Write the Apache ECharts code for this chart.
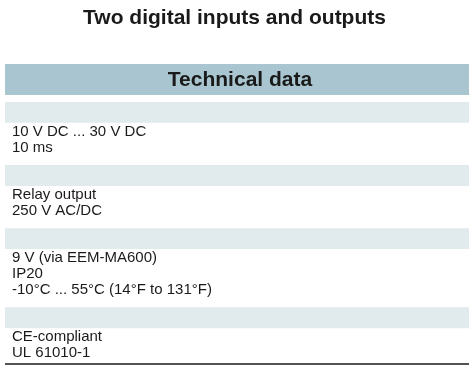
<!DOCTYPE html>
<html><head><meta charset="utf-8">
<script src="https://cdn.jsdelivr.net/npm/echarts@6/dist/echarts.min.js"></script>
<style>html,body{margin:0;padding:0;background:#fff}#c{width:469px;height:380px}</style>
</head><body><div id="c"></div>
<script>
var chartTitle = 'Two digital inputs and outputs';
var headerText = 'Technical data';
var sectionLines = [
  ['10 V DC ... 30 V DC', '10 ms'],
  ['Relay output', '250 V AC/DC'],
  ['9 V (via EEM-MA600)', 'IP20', '-10°C ... 55°C (14°F to 131°F)'],
  ['CE-compliant', 'UL 61010-1']
];

// layout in "line units" (1 unit = 16px)
var HEADER_H = 1.94, GAP_AFTER_HEADER = 0.44, BAND_H = 1.31, LINE_H = 1, PAD_TOP = 0.05, PAD_BOTTOM = 0.6, RULE_PAD = 0.2;
var items = [];
var y = 0;
items.push({kind: 'header', y0: y, y1: y + HEADER_H, text: headerText});
y += HEADER_H + GAP_AFTER_HEADER;
sectionLines.forEach(function (lines, si) {
  items.push({kind: 'band', y0: y, y1: y + BAND_H});
  y += BAND_H + PAD_TOP;
  lines.forEach(function (t) {
    items.push({kind: 'line', y0: y, y1: y + LINE_H, text: t});
    y += LINE_H;
  });
  y += (si < sectionLines.length - 1) ? PAD_BOTTOM : RULE_PAD;
});
items.push({kind: 'rule', y0: y, y1: y});
var yMax = y + 1;

var chart = echarts.init(document.getElementById('c'), null, {renderer: 'canvas'});
chart.setOption({
  animation: false,
  title: {text: chartTitle, left: 'center', top: 3,
    textStyle: {fontFamily: 'Liberation Sans', fontSize: 21, fontWeight: 'bold', color: '#1a1a1a'}},
  grid: {left: 5, right: 0, top: 64, height: yMax * 16},
  xAxis: {type: 'value', min: 0, max: 1, show: false},
  yAxis: {type: 'value', min: 0, max: yMax, inverse: true, show: false},
  series: [{
    type: 'custom',
    silent: true,
    data: items.map(function (it, i) { return [i, it.y0, it.y1]; }),
    renderItem: function (params, api) {
      var it = items[api.value(0)];
      var p0 = api.coord([0, api.value(1)]);
      var p1 = api.coord([1, api.value(2)]);
      if (it.kind === 'header') {
        return {type: 'group', children: [
          {type: 'rect', shape: {x: p0[0], y: p0[1], width: p1[0] - p0[0], height: p1[1] - p0[1]}, style: {fill: '#a9c6d0'}},
          {type: 'text', style: {x: (p0[0] + p1[0]) / 2 + 3, y: (p0[1] + p1[1]) / 2 + 1, text: it.text, align: 'center', verticalAlign: 'middle',
            font: 'bold 21px "Liberation Sans"', fill: '#1a1a1a'}}
        ]};
      }
      if (it.kind === 'band') {
        return {type: 'rect', shape: {x: p0[0], y: p0[1], width: p1[0] - p0[0], height: p1[1] - p0[1]}, style: {fill: '#e1eaed'}};
      }
      if (it.kind === 'line') {
        return {type: 'text', style: {x: p0[0] + 7, y: (p0[1] + p1[1]) / 2, text: it.text, align: 'left', verticalAlign: 'middle',
          font: '15px "Liberation Sans"', fill: '#1a1a1a'}};
      }
      return {type: 'line', shape: {x1: p0[0], y1: p0[1], x2: p1[0], y2: p0[1]}, style: {stroke: '#1a1a1a', lineWidth: 1.5}};
    }
  }]
});
</script></body></html>
